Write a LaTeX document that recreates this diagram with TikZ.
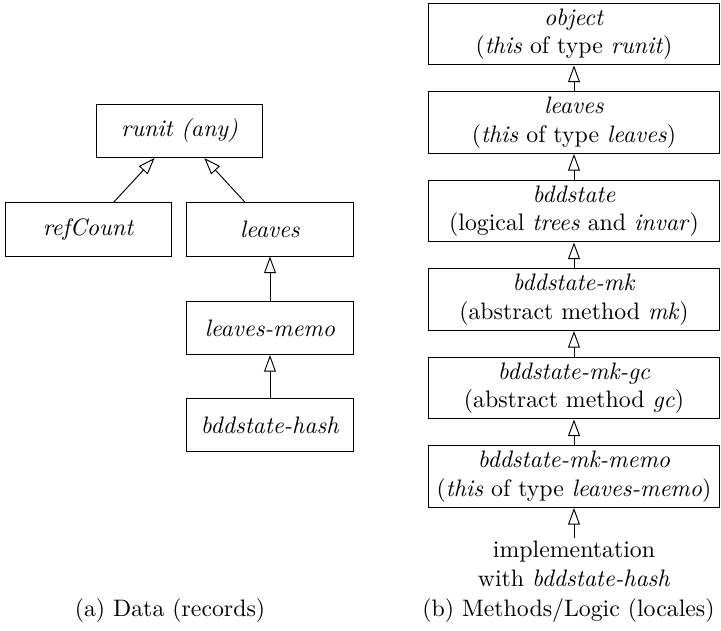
\documentclass[tikz,border=0pt]{standalone}
\usepackage{amsmath,amssymb}
\usepackage{tikz}
\usetikzlibrary{arrows, arrows.meta, shapes.geometric, fit}

\begin{document}
\begin{tikzpicture}[x=0.42pt, y=-0.42pt,
    boite/.style={draw, rectangle, minimum width=70.1pt, minimum height=22.3pt, inner sep=2pt},
    grande/.style={draw, rectangle, align=center, minimum width=122.6pt, minimum height=26pt, inner xsep=2pt, inner ysep=2pt},
    herite/.style={-{Triangle[open, length=7pt, width=5pt]}}]
    % Cadre
    \useasboundingbox (0,0) rectangle (721,631);

    % (a) Les donnees
    \node[boite] (runit) at (179.5,131) {\textit{runit (any)}};
    \node[boite] (refcount) at (88.5,229.5) {\textit{refCount}};
    \node[boite] (leaves) at (270,229.5) {\textit{leaves}};
    \node[boite] (leavesmemo) at (270,328) {\textit{leaves-memo}};
    \node[boite] (bddhash) at (270,425) {\textit{bddstate-hash}};

    \draw[herite] (refcount) -- (runit);
    \draw[herite] (leaves) -- (runit);
    \draw[herite] (leavesmemo) -- (leaves);
    \draw[herite] (bddhash) -- (leavesmemo);

    % (b) Les methodes
    \node[grande] (object) at (574,34) {\textit{object}\\(\textit{this} of type \textit{runit})};
    \node[grande] (lvs) at (574,122.5) {\textit{leaves}\\(\textit{this} of type \textit{leaves})};
    \node[grande] (bdd) at (574,211) {\textit{bddstate}\\(logical \textit{trees} and \textit{invar})};
    \node[grande] (bddmk) at (574,299.5) {\textit{bddstate-mk}\\(abstract method \textit{mk})};
    \node[grande] (bddmkgc) at (574,388) {\textit{bddstate-mk-gc}\\(abstract method \textit{gc})};
    \node[grande] (bddmkmemo) at (574,476.5) {\textit{bddstate-mk-memo}\\(\textit{this} of type \textit{leaves-memo})};
    \node[align=center, inner sep=1.2pt] (impl) at (574,564) {implementation\\with \textit{bddstate-hash}};

    \draw[herite] (lvs) -- (object);
    \draw[herite] (bdd) -- (lvs);
    \draw[herite] (bddmk) -- (bdd);
    \draw[herite] (bddmkgc) -- (bddmk);
    \draw[herite] (bddmkmemo) -- (bddmkgc);
    \draw[herite] (impl) -- (bddmkmemo);

    % Legendes
    \node (capa) at (170,611) {(a) Data (records)};
    \node (capb) at (568.5,611) {(b) Methods/Logic (locales)};
\end{tikzpicture}
\end{document}
